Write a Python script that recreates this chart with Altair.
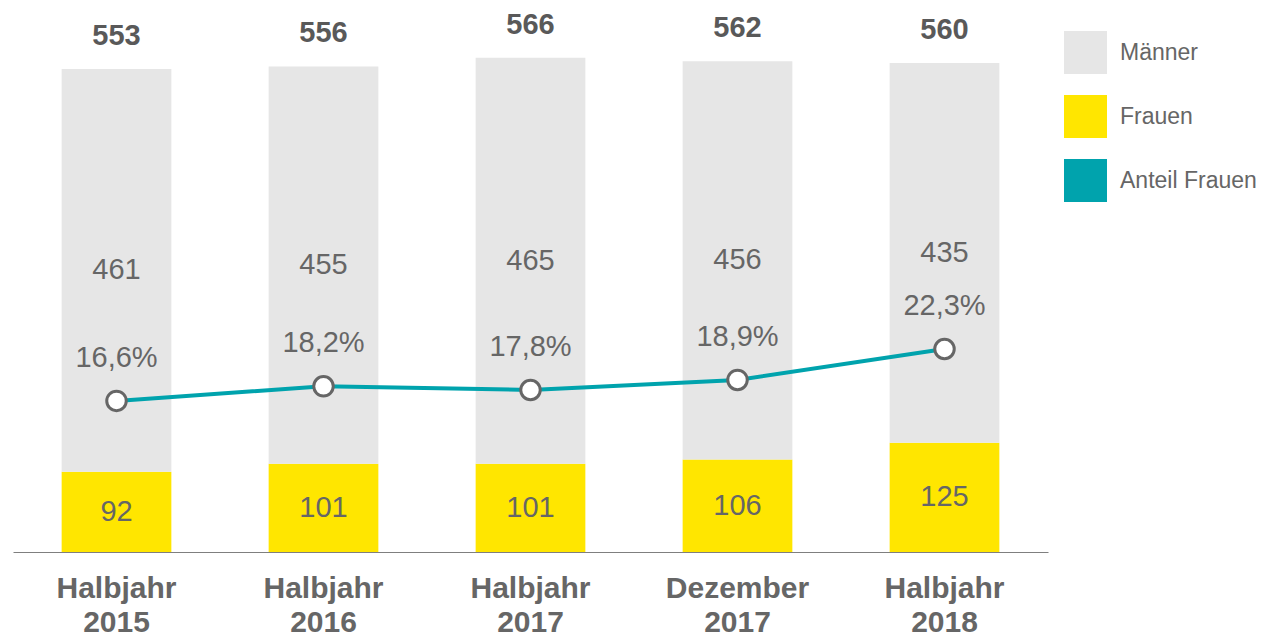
import altair as alt
import pandas as pd

categories = ["Halbjahr 2015", "Halbjahr 2016", "Halbjahr 2017", "Dezember 2017", "Halbjahr 2018"]
maenner = [461, 455, 465, 456, 435]
frauen = [92, 101, 101, 106, 125]
totals = [553, 556, 566, 562, 560]
anteil = [16.6, 18.2, 17.8, 18.9, 22.3]
legend_items = ["Männer", "Frauen", "Anteil Frauen"]
legend_colors = ["#E6E6E6", "#FFE600", "#00A3AD"]

rows = []
for c, m, f in zip(categories, maenner, frauen):
    rows.append({"cat": c, "group": "Frauen", "value": f, "ord": 0})
    rows.append({"cat": c, "group": "Männer", "value": m, "ord": 1})
bars_df = pd.DataFrame(rows)
tot_df = pd.DataFrame({"cat": categories, "total": totals})
line_df = pd.DataFrame({
    "cat": categories,
    "anteil": anteil,
    "label": [f"{v:.1f}".replace(".", ",") + "%" for v in anteil],
})

FONT = "Liberation Sans"
GREY = "#666666"

x = alt.X(
    "cat:N", sort=categories, title=None,
    scale=alt.Scale(paddingInner=0.47, paddingOuter=0.235),
    axis=alt.Axis(
        labelExpr="split(datum.label, ' ')", labelAngle=0, ticks=False,
        domainColor="#7f7f7f", domainWidth=1, labelFontSize=30,
        labelFontWeight="bold", labelColor=GREY, labelLineHeight=34,
        labelPadding=21, labelFont=FONT, grid=False,
    ),
)

ybar = alt.Scale(domain=[0, 616], nice=False, zero=True)
yline = alt.Scale(domain=[0, 59.1], nice=False, zero=True)

bars = alt.Chart(bars_df).mark_bar().encode(
    x=x,
    y=alt.Y("value:Q", stack="zero", scale=ybar, axis=None),
    color=alt.Color(
        "group:N",
        scale=alt.Scale(domain=legend_items, range=legend_colors),
        legend=alt.Legend(
            title=None, orient="none", legendX=1051, legendY=17,
            symbolType="square", symbolSize=1849, symbolStrokeWidth=0,
            labelFontSize=23, labelColor=GREY, labelFont=FONT,
            rowPadding=21, labelOffset=13, padding=0, labelLimit=300,
        ),
    ),
    order=alt.Order("ord:Q", sort="ascending"),
)

inner = alt.Chart(bars_df).transform_stack(
    stack="value", groupby=["cat"], as_=["y0", "y1"],
    sort=[alt.SortField("ord", "ascending")],
).transform_calculate(
    mid="(datum.y0 + datum.y1) / 2"
).mark_text(font=FONT, fontSize=29, color=GREY, baseline="middle").encode(
    x=x,
    y=alt.Y("mid:Q", scale=ybar, axis=None),
    text="value:Q",
)

tot = alt.Chart(tot_df).mark_text(
    font=FONT, fontSize=29, fontWeight="bold", color="#595959",
    baseline="alphabetic", dy=-24,
).encode(
    x=x,
    y=alt.Y("total:Q", scale=ybar, axis=None),
    text="total:Q",
)

line = alt.Chart(line_df).mark_line(color="#00A3AD", strokeWidth=4).encode(
    x=x,
    y=alt.Y("anteil:Q", scale=yline, axis=None),
)

pts = alt.Chart(line_df).mark_point(
    shape="circle", filled=True, fill="white", stroke=GREY,
    strokeWidth=3, size=380, opacity=1,
).encode(
    x=x,
    y=alt.Y("anteil:Q", scale=yline, axis=None),
)

pct = alt.Chart(line_df).mark_text(
    font=FONT, fontSize=29, color=GREY, baseline="middle", dy=-43,
).encode(
    x=x,
    y=alt.Y("anteil:Q", scale=yline, axis=None),
    text="label:N",
)

chart = alt.layer(bars, inner, tot, line, pts, pct).resolve_scale(
    y="independent"
).properties(
    width=1035, height=538,
    padding={"left": 5, "top": 2, "right": 0, "bottom": 0},
).configure_view(stroke=None)

chart.save("out.html", embed_options={"renderer": "svg", "actions": False})
